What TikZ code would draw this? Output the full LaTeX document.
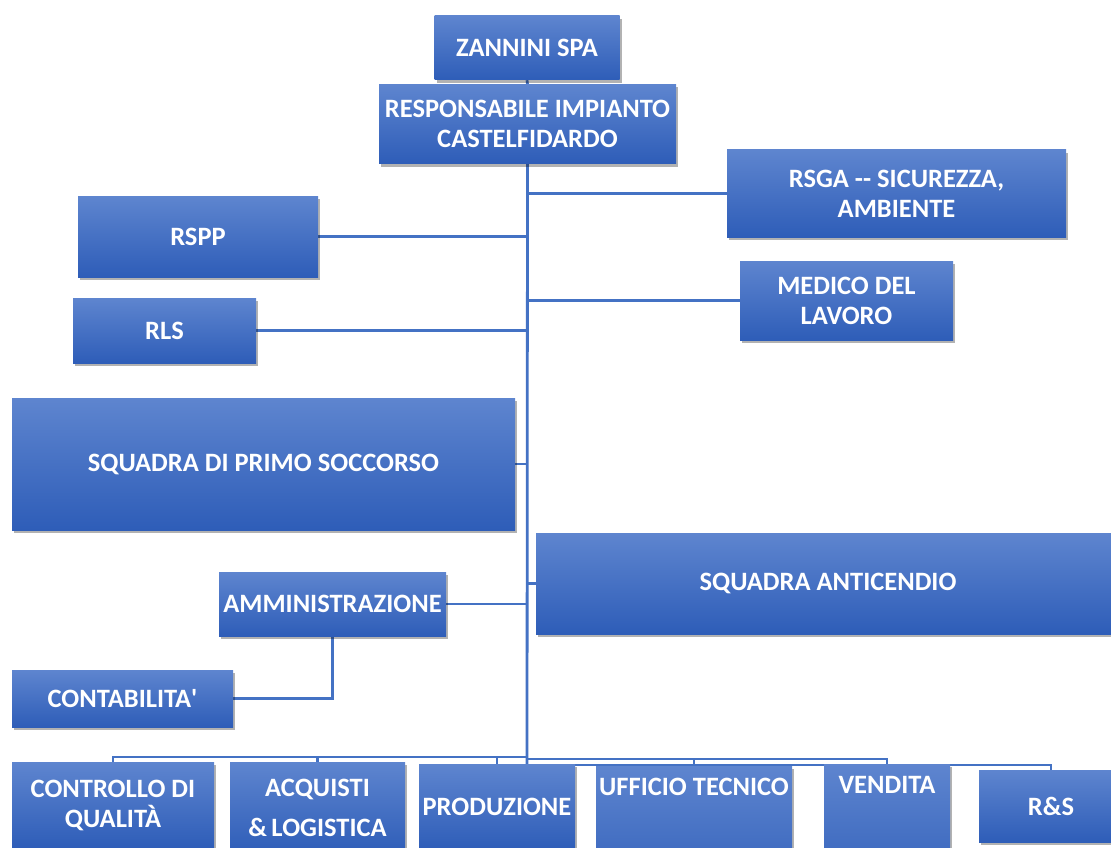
\documentclass[tikz,border=0pt]{standalone}
\usepackage{fontspec}
\setmainfont{Carlito}
\usetikzlibrary{shadows}
\pgfdeclarelayer{bg}
\pgfsetlayers{bg,main}
\definecolor{topc}{RGB}{94,133,207}
\definecolor{botc}{RGB}{46,93,184}
\definecolor{linec}{RGB}{68,114,196}
\tikzset{
  box/.style={draw=none, top color=topc, bottom color=botc, inner sep=0pt,
    text=white, align=center, font=\bfseries\fontsize{26.5}{30}\selectfont,
    drop shadow={shadow xshift=2pt, shadow yshift=-3pt, opacity=0.3, fill=black}},
  txt/.style={text=white, align=center, inner sep=0pt, font=\bfseries\fontsize{26.5}{30}\selectfont},
  conn/.style={draw=linec, line width=2.8pt}
}
\begin{document}
\begin{tikzpicture}[x=1pt,y=-1pt]
\useasboundingbox (0,0) rectangle (1111,848);
\clip (0,0) rectangle (1111,848);
% boxes
\node[box, minimum width=185, minimum height=64] (zan) at (527,48) {ZANNINI SPA};
\node[box, minimum width=297, minimum height=79] (resp) at (527.5,124) {RESPONSABILE IMPIANTO\\CASTELFIDARDO};
\node[box, minimum width=339, minimum height=87] (rsga) at (896.5,193.5) {RSGA -{}- SICUREZZA,\\AMBIENTE};
\node[box, minimum width=213, minimum height=79] (med) at (846.5,300.5) {MEDICO DEL\\LAVORO};
\node[box, minimum width=240, minimum height=81] (rspp) at (198,236.5) {RSPP};
\node[box, minimum width=183, minimum height=65] (rls) at (164.5,330.5) {RLS};
\node[box, minimum width=503, minimum height=132] (pso) at (263.5,464) {SQUADRA DI PRIMO SOCCORSO};
\node[box, minimum width=584, minimum height=101] (anti) at (828,583.5) {SQUADRA ANTICENDIO};
\node[box, minimum width=227, minimum height=64] (amm) at (332.5,604) {AMMINISTRAZIONE};
\node[box, minimum width=221, minimum height=57] (cont) at (122.5,698.5) {CONTABILITA\textquotesingle};
\node[box, minimum width=202, minimum height=86] (ctrl) at (113,805) {CONTROLLO DI\\QUALITÀ};
\node[box, minimum width=175, minimum height=92] (acq) at (317.5,808) {ACQUISTI\\[10pt]\&\,LOGISTICA};
\node[box, minimum width=156, minimum height=86] (prod) at (497,807) {PRODUZIONE};
\node[box, minimum width=196, minimum height=140] (uff) at (694,836) {};
\node[txt] (uff-t) at (694,787) {UFFICIO TECNICO};
\node[box, minimum width=126, minimum height=140] (ven) at (887,834) {};
\node[txt] (ven-t) at (887,785) {VENDITA};
\node[box, minimum width=144, minimum height=72] (rs) at (1051,806) {R\&S};
% connectors
\coordinate (tb) at (527,757);
\coordinate (tb2) at (527,759);
\coordinate (tb3) at (527,765);
\begin{pgfonlayer}{bg}
\draw[conn] (zan.south) -- (resp.north);
\draw[conn] (resp.south) -- (tb3);
\draw[conn] (rsga.west) -- (rsga.west -| tb);
\draw[conn] (med.west) -- (med.west -| tb);
\draw[conn] (rspp.east) -- (rspp.east -| tb);
\draw[conn] (rls.east) -- (rls.east -| tb);
\draw[conn] (pso.east) -- (pso.east -| tb);
\draw[conn] (anti.west) -- (anti.west -| tb);
\draw[conn] (amm.east) -- (amm.east -| tb);
\draw[conn] (amm.south) |- (cont.east);
\draw[conn] (tb) -| (ctrl.north);
\draw[conn] (tb) -| (acq.north);
\draw[conn] (tb) -| (prod.north);
\draw[conn] (tb2) -| (uff.north);
\draw[conn] (tb2) -| (ven.north);
\draw[conn] (tb3) -| (rs.north);
\end{pgfonlayer}
\end{tikzpicture}
\end{document}
